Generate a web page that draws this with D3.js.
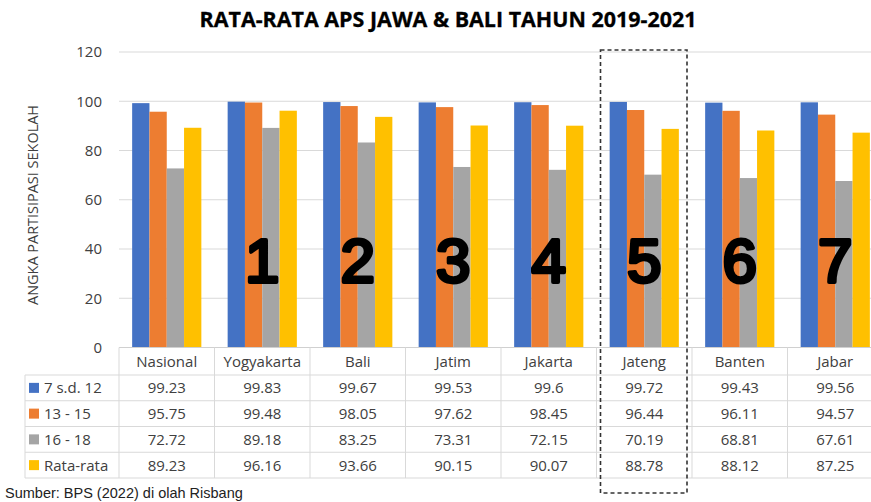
<!DOCTYPE html>
<html><head><meta charset="utf-8">
<script src="https://cdn.jsdelivr.net/npm/d3@7"></script>
<style>body{margin:0;background:#fff}svg{display:block}</style>
</head><body>
<svg id="c" width="871" height="502"></svg>
<script>
const categories = ["Nasional","Yogyakarta","Bali","Jatim","Jakarta","Jateng","Banten","Jabar"];
const seriesNames = ["7 s.d. 12","13 - 15","16 - 18","Rata-rata"];
const v7_12 = [99.23,99.83,99.67,99.53,99.6,99.72,99.43,99.56];
const v13_15 = [95.75,99.48,98.05,97.62,98.45,96.44,96.11,94.57];
const v16_18 = [72.72,89.18,83.25,73.31,72.15,70.19,68.81,67.61];
const vAvg = [89.23,96.16,93.66,90.15,90.07,88.78,88.12,87.25];
const rankLabels = ["","1","2","3","4","5","6","7"];
const yTicks = [0,20,40,60,80,100,120];
const colors = ["#4472C4","#ED7D31","#A5A5A5","#FFC000"];
const seriesValues = [v7_12, v13_15, v16_18, vAvg];

const svg = d3.select("#c");
const plotLeft = 119, colW = 95.5, y0 = 347.5, yTop = 52;
const x = d3.scaleBand().domain(categories).range([plotLeft, plotLeft + colW*categories.length]).padding(0);
const xs = d3.scaleBand().domain(seriesNames).range([0, x.bandwidth()]).paddingInner(0).paddingOuter(0.76);
const y = d3.scaleLinear().domain([0,120]).range([y0, yTop]);

// title
svg.append("text").attr("x",448).attr("y",27).attr("text-anchor","middle")
  .attr("font-family","'Open Sans', sans-serif").attr("font-weight","bold").attr("font-size",21)
  .attr("textLength",497).attr("lengthAdjust","spacingAndGlyphs").attr("fill","#000")
  .attr("stroke","#000").attr("stroke-width",0.3)
  .text("RATA-RATA APS JAWA & BALI TAHUN 2019-2021");

// gridlines
svg.append("g").selectAll("line").data(yTicks.filter(d=>d>0)).join("line")
  .attr("x1",plotLeft).attr("x2",871).attr("y1",d=>y(d)).attr("y2",d=>y(d))
  .attr("stroke","#d9d9d9").attr("stroke-width",1);

// y axis labels
const yAxis = d3.axisLeft(y).tickValues(yTicks).tickSize(0).tickPadding(0);
const ga = svg.append("g").attr("transform","translate(102,0)").call(yAxis);
ga.select(".domain").remove();
ga.selectAll("text").attr("font-family","'Open Sans', sans-serif").attr("font-size",15).attr("fill","#404040");

svg.append("text").attr("transform","translate(38,205) rotate(-90)").attr("text-anchor","middle")
  .attr("font-family","'Open Sans', sans-serif").attr("font-size",14.5).attr("fill","#404040")
  .attr("textLength",200).attr("lengthAdjust","spacingAndGlyphs")
  .text("ANGKA PARTISIPASI SEKOLAH");

// bars
const gBars = svg.append("g");
seriesNames.forEach((s,si)=>{
  gBars.append("g").selectAll("rect").data(seriesValues[si]).join("rect")
    .attr("x",(d,i)=>x(categories[i])+xs(s)).attr("width",xs.bandwidth())
    .attr("y",d=>y(d)).attr("height",d=>y0-y(d)).attr("fill",colors[si]);
});

// big rank numbers
svg.append("g").selectAll("text").data(rankLabels).join("text")
  .attr("x",(d,i)=>x(categories[i])+x.bandwidth()/2).attr("y",282)
  .attr("text-anchor","middle").attr("font-family","'Liberation Sans', Arial, sans-serif")
  .attr("font-size",62).attr("fill","#000").attr("stroke","#000").attr("stroke-width",3.8)
  .attr("stroke-linejoin","round").attr("stroke-linecap","round")
  .text(d=>d);

// data table
const tableLeft = 25, headerTop = y0, headerBot = 375, rowH = 25.75;
const tg = svg.append("g");
const gridColor = "#d9d9d9";
tg.append("line").attr("x1",plotLeft).attr("x2",871).attr("y1",y0).attr("y2",y0).attr("stroke","#d0d0d0");
const rowLines = d3.range(seriesNames.length+1).map(i=>headerBot + i*rowH);
tg.selectAll("line.h").data(rowLines).join("line").attr("class","h")
  .attr("x1",tableLeft).attr("x2",871).attr("y1",d=>d).attr("y2",d=>d).attr("stroke",gridColor);
tg.selectAll("line.v").data(categories).join("line").attr("class","v")
  .attr("x1",d=>x(d)).attr("x2",d=>x(d)).attr("y1",headerTop).attr("y2",rowLines[rowLines.length-1]).attr("stroke",gridColor);
tg.append("line").attr("x1",tableLeft).attr("x2",tableLeft).attr("y1",headerBot).attr("y2",rowLines[rowLines.length-1]).attr("stroke",gridColor);

tg.selectAll("text.hd").data(categories).join("text").attr("class","hd")
  .attr("x",d=>x(d)+x.bandwidth()/2).attr("y",(headerTop+headerBot)/2+5.5)
  .attr("text-anchor","middle").attr("font-family","'Open Sans', sans-serif").attr("font-size",15).attr("fill","#404040")
  .text(d=>d);

seriesNames.forEach((s,si)=>{
  const cy = headerBot + si*rowH + rowH/2;
  tg.append("rect").attr("x",29).attr("y",cy-5).attr("width",10).attr("height",10).attr("fill",colors[si]);
  tg.append("text").attr("x",44).attr("y",cy+5.5).attr("font-family","'Open Sans', sans-serif")
    .attr("font-size",15).attr("fill","#404040").text(s);
  tg.append("g").selectAll("text").data(seriesValues[si]).join("text")
    .attr("x",(d,i)=>x(categories[i])+x.bandwidth()/2).attr("y",cy+5.5)
    .attr("text-anchor","middle").attr("font-family","'Open Sans', sans-serif").attr("font-size",15).attr("fill","#404040")
    .text(d=>d);
});

// dashed highlight box around Jateng
const hx = x("Jateng");
svg.append("rect").attr("x",hx+4).attr("y",50).attr("width",x.bandwidth()-9).attr("height",443)
  .attr("fill","none").attr("stroke","#333").attr("stroke-width",1.6).attr("stroke-dasharray","4,3");

// source
svg.append("text").attr("x",5).attr("y",498).attr("font-family","'Liberation Sans', Arial, sans-serif")
  .attr("font-size",14.5).attr("fill","#222").text("Sumber: BPS (2022) di olah Risbang");
</script>
</body></html>
